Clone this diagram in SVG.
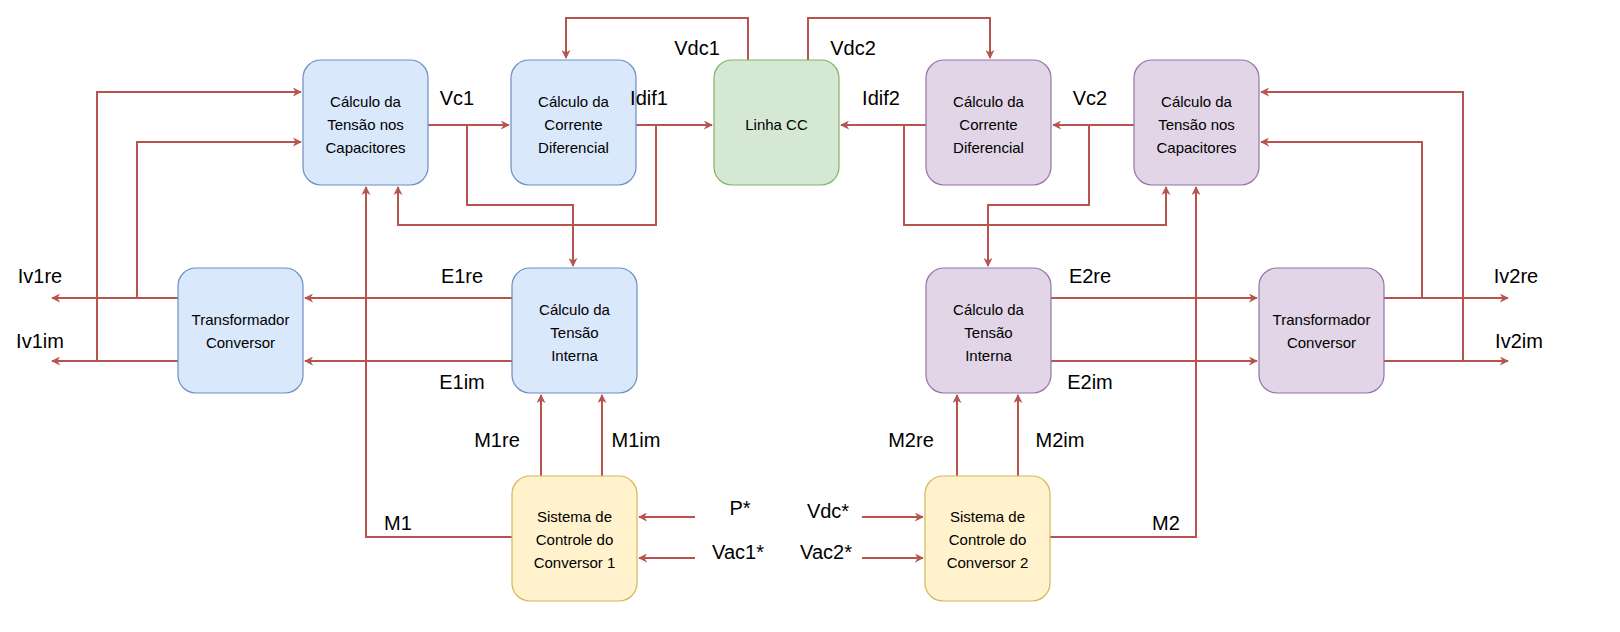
<svg xmlns="http://www.w3.org/2000/svg" width="1620" height="632" viewBox="0 0 1620 632">
<defs>
<marker id="a" viewBox="0 0 10 10" refX="9" refY="5" markerWidth="9" markerHeight="9" orient="auto" markerUnits="userSpaceOnUse"><path d="M0,0 L10,5 L0,10 L3,5 Z" fill="#b85450"/></marker>
<style>
.b{fill:#dae8fc;stroke:#6c8ebf;stroke-width:1.2}
.g{fill:#d5e8d4;stroke:#82b366;stroke-width:1.2}
.p{fill:#e1d5e7;stroke:#9673a6;stroke-width:1.2}
.y{fill:#fff2cc;stroke:#d6b656;stroke-width:1.2}
.t{font-family:"Liberation Sans",Arial,sans-serif;font-size:15px;text-anchor:middle;fill:#000}
.l{font-family:"Liberation Sans",Arial,sans-serif;font-size:20px;text-anchor:middle;fill:#000}
.c path{fill:none;stroke:#b85450;stroke-width:2;marker-end:url(#a)}
</style>
</defs>
<rect width="1620" height="632" fill="#fff"/>
<g class="c">
<path d="M178,298 H52"/><path d="M137,298 V142 H301"/>
<path d="M178,361 H52"/><path d="M97,361 V92 H301"/>
<path d="M428,125 H509"/><path d="M467,125 V205 H573 V266"/>
<path d="M636,125 H712"/><path d="M656,125 V225 H398 V187"/>
<path d="M748,60 V18 H566 V58"/>
<path d="M808,60 V18 H990 V58"/>
<path d="M512,298 H305"/><path d="M512,361 H305"/>
<path d="M512,537 H366 V187"/>
<path d="M541,476 V395"/><path d="M602,476 V395"/>
<path d="M695,517 H639"/><path d="M695,558 H639"/>
<path d="M862,517 H923"/><path d="M862,558 H923"/>
<path d="M1050,537 H1196 V187"/>
<path d="M957,476 V395"/><path d="M1018,476 V395"/>
<path d="M1051,298 H1257"/><path d="M1051,361 H1257"/>
<path d="M1384,298 H1508"/><path d="M1422,298 V142 H1261"/>
<path d="M1384,361 H1508"/><path d="M1463,361 V92 H1261"/>
<path d="M926,125 H841"/><path d="M904,125 V225 H1166 V187"/>
<path d="M1134,125 H1053"/><path d="M1089,125 V205 H988 V266"/>
</g>
<g id="cap1"><rect class="b" x="303" y="60" width="125" height="125" rx="18"/><text class="t"><tspan x="365.5" y="107">Cálculo da</tspan><tspan x="365.5" y="130">Tensão nos</tspan><tspan x="365.5" y="153">Capacitores</tspan></text></g>
<g id="dif1"><rect class="b" x="511" y="60" width="125" height="125" rx="18"/><text class="t"><tspan x="573.5" y="107">Cálculo da</tspan><tspan x="573.5" y="130">Corrente</tspan><tspan x="573.5" y="153">Diferencial</tspan></text></g>
<g id="linha"><rect class="g" x="714" y="60" width="125" height="125" rx="18"/><text class="t" x="776.5" y="130">Linha CC</text></g>
<g id="dif2"><rect class="p" x="926" y="60" width="125" height="125" rx="18"/><text class="t"><tspan x="988.5" y="107">Cálculo da</tspan><tspan x="988.5" y="130">Corrente</tspan><tspan x="988.5" y="153">Diferencial</tspan></text></g>
<g id="cap2"><rect class="p" x="1134" y="60" width="125" height="125" rx="18"/><text class="t"><tspan x="1196.5" y="107">Cálculo da</tspan><tspan x="1196.5" y="130">Tensão nos</tspan><tspan x="1196.5" y="153">Capacitores</tspan></text></g>
<g id="tr1"><rect class="b" x="178" y="268" width="125" height="125" rx="18"/><text class="t"><tspan x="240.5" y="325">Transformador</tspan><tspan x="240.5" y="348">Conversor</tspan></text></g>
<g id="int1"><rect class="b" x="512" y="268" width="125" height="125" rx="18"/><text class="t"><tspan x="574.5" y="315">Cálculo da</tspan><tspan x="574.5" y="338">Tensão</tspan><tspan x="574.5" y="361">Interna</tspan></text></g>
<g id="int2"><rect class="p" x="926" y="268" width="125" height="125" rx="18"/><text class="t"><tspan x="988.5" y="315">Cálculo da</tspan><tspan x="988.5" y="338">Tensão</tspan><tspan x="988.5" y="361">Interna</tspan></text></g>
<g id="tr2"><rect class="p" x="1259" y="268" width="125" height="125" rx="18"/><text class="t"><tspan x="1321.5" y="325">Transformador</tspan><tspan x="1321.5" y="348">Conversor</tspan></text></g>
<g id="sc1"><rect class="y" x="512" y="476" width="125" height="125" rx="18"/><text class="t"><tspan x="574.5" y="522">Sistema de</tspan><tspan x="574.5" y="545">Controle do</tspan><tspan x="574.5" y="568">Conversor 1</tspan></text></g>
<g id="sc2"><rect class="y" x="925" y="476" width="125" height="125" rx="18"/><text class="t"><tspan x="987.5" y="522">Sistema de</tspan><tspan x="987.5" y="545">Controle do</tspan><tspan x="987.5" y="568">Conversor 2</tspan></text></g>
<g id="labels" class="l">
<text x="457" y="105">Vc1</text><text x="649" y="105">Idif1</text>
<text x="697" y="55">Vdc1</text><text x="853" y="55">Vdc2</text>
<text x="881" y="105">Idif2</text><text x="1090" y="105">Vc2</text>
<text x="462" y="283">E1re</text><text x="462" y="389">E1im</text>
<text x="40" y="283">Iv1re</text><text x="40" y="348">Iv1im</text>
<text x="497" y="447">M1re</text><text x="636" y="447">M1im</text>
<text x="398" y="530">M1</text>
<text x="740" y="515">P*</text><text x="738" y="559">Vac1*</text>
<text x="828" y="518">Vdc*</text><text x="826" y="559">Vac2*</text>
<text x="1166" y="530">M2</text>
<text x="911" y="447">M2re</text><text x="1060" y="447">M2im</text>
<text x="1090" y="283">E2re</text><text x="1090" y="389">E2im</text>
<text x="1516" y="283">Iv2re</text><text x="1519" y="348">Iv2im</text>
</g>
</svg>
